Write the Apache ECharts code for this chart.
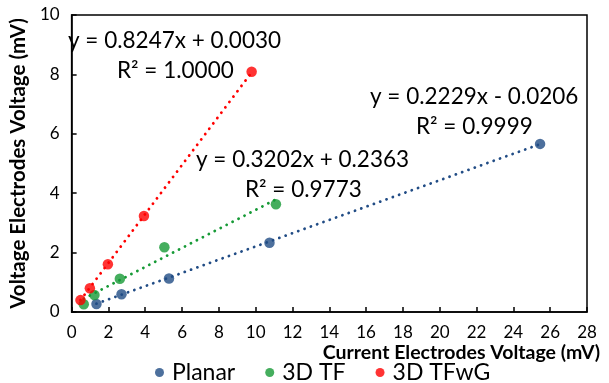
<!DOCTYPE html>
<html><head><meta charset="utf-8">
<script src="https://cdn.jsdelivr.net/npm/echarts@6/dist/echarts.min.js"></script>
<style>html,body{margin:0;padding:0;background:#fff}#c{width:609px;height:383px}</style>
</head><body><div id="c"></div>
<script>
const seriesNames = ['Planar', '3D TF', '3D TFwG'];
const colors = ['#214C85', '#169A36', '#FF0000'];
const planarX = [1.35, 2.71, 5.29, 10.75, 25.45];
const planarY = [0.27, 0.60, 1.13, 2.33, 5.66];
const tfX = [0.66, 1.24, 2.62, 5.04, 11.1];
const tfY = [0.26, 0.57, 1.12, 2.18, 3.63];
const tfwgX = [0.48, 0.99, 1.97, 3.93, 9.78];
const tfwgY = [0.40, 0.80, 1.61, 3.23, 8.09];
const slopes = [0.2229, 0.3202, 0.8247];
const intercepts = [-0.0206, 0.2363, 0.0030];
const eqTexts = ['y = 0.2229x - 0.0206', 'y = 0.3202x + 0.2363', 'y = 0.8247x + 0.0030'];
const r2Texts = ['R² = 0.9999', 'R² = 0.9773', 'R² = 1.0000'];
const xTicks = [0,2,4,6,8,10,12,14,16,18,20,22,24,26,28];
const yTicks = [0,2,4,6,8,10];

const xs = [planarX, tfX, tfwgX], ys = [planarY, tfY, tfwgY];
const FONT = 'Lato';
const chart = echarts.init(document.getElementById('c'));
const series = [];
for (let i = 0; i < 3; i++) {
  const x0 = Math.min(...xs[i]), x1 = Math.max(...xs[i]);
  series.push({
    name: seriesNames[i] + ' trend', type: 'line', symbol: 'none', silent: true,
    data: [[x0, slopes[i]*x0 + intercepts[i]], [x1, slopes[i]*x1 + intercepts[i]]],
    lineStyle: { color: colors[i], width: 2.8, type: [0.1, 6.6], cap: 'round' }, z: 2
  });
}
for (let i = 0; i < 3; i++) {
  series.push({
    name: seriesNames[i], type: 'scatter', symbol: 'circle', symbolSize: 10.5,
    itemStyle: { color: colors[i] }, z: 3,
    data: xs[i].map((v, k) => [v, ys[i][k]])
  });
}
const ANN = 22.5;
const txt = (x, y, s) => ({
  type: 'text', left: x, top: y,
  style: { text: s, fill: '#000', font: ANN + 'px ' + FONT }
});
chart.setOption({
  animation: false,
  grid: { left: 67, right: 22, top: 15, bottom: 71, show: true, borderColor: '#000', borderWidth: 1.5 },
  xAxis: {
    type: 'value', min: xTicks[0], max: xTicks[xTicks.length-1], interval: 2,
    axisLine: { show: true, onZero: false, lineStyle: { color: '#000', width: 1.5 } },
    axisTick: { show: true, inside: true, length: 5, lineStyle: { color: '#000', width: 1.5 } },
    axisLabel: { color: '#000', fontSize: 17, fontFamily: FONT, margin: 12 },
    splitLine: { show: false }
  },
  yAxis: {
    type: 'value', min: yTicks[0], max: yTicks[yTicks.length-1], interval: 2,
    name: 'Voltage Electrodes Voltage (mV)', nameLocation: 'middle', nameRotate: 90, nameGap: 42,
    nameTextStyle: { color: '#000', fontSize: 20.5, fontWeight: 'bold', fontFamily: FONT },
    axisLine: { show: true, onZero: false, lineStyle: { color: '#000', width: 1.5 } },
    axisTick: { show: true, inside: true, length: 5, lineStyle: { color: '#000', width: 1.5 } },
    axisLabel: { color: '#000', fontSize: 17, fontFamily: FONT, margin: 12 },
    splitLine: { show: false }
  },
  legend: {
    data: seriesNames, bottom: -6, left: 150, itemGap: 30, itemWidth: 9, itemHeight: 9, icon: 'circle',
    textStyle: { color: '#000', fontSize: 23, fontFamily: FONT, padding: [0, 0, 0, 3] }
  },
  graphic: [
    txt(68, 29, eqTexts[2]),
    txt(117, 59, r2Texts[2]),
    txt(196, 148, eqTexts[1]),
    txt(245, 178, r2Texts[1]),
    txt(370, 85, eqTexts[0]),
    txt(416, 115, r2Texts[0]),
    { type: 'text', right: 9, top: 343, style: { text: 'Current Electrodes Voltage (mV)', fill: '#000', font: 'bold 19.5px ' + FONT } }
  ],
  series: series
});
</script></body></html>
